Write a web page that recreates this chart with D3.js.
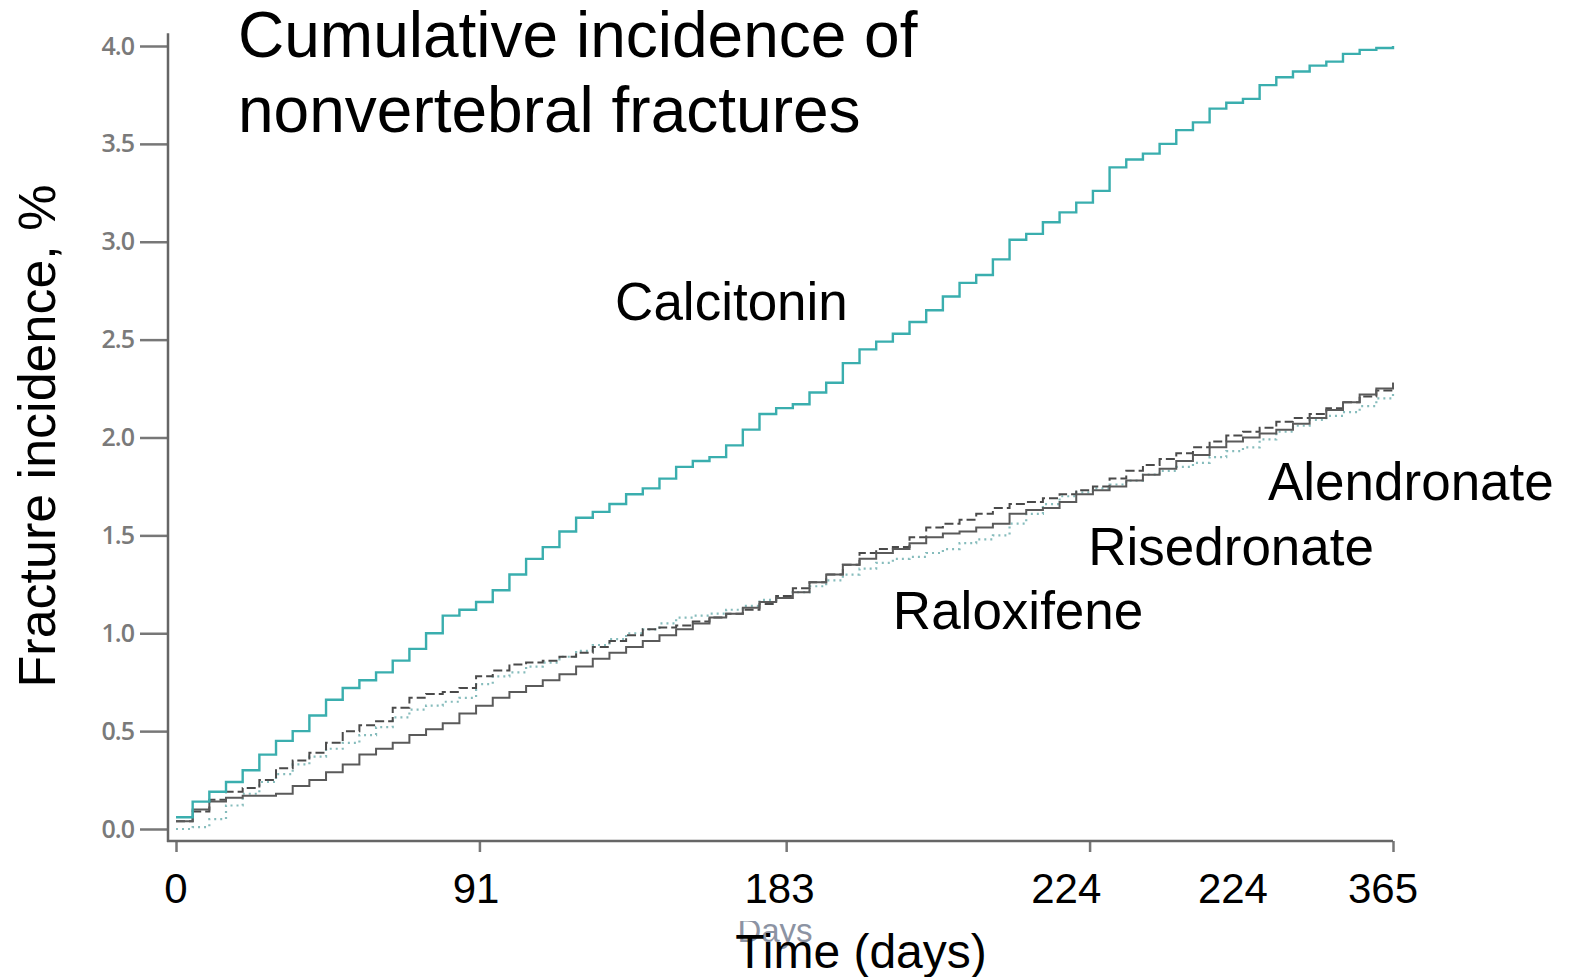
<!DOCTYPE html>
<html>
<head>
  <meta charset="utf-8">
  <style>
    body { margin: 0; background: #fff; }
    text { font-family: "Liberation Sans", Arial, sans-serif; }
    .ytick text { font-family: "Open Sans", sans-serif; font-weight: 600; font-size: 25px; fill: #7a7a7a; letter-spacing: -1px; }
    .ytick line, .xtick line { stroke: #777; stroke-width: 2.5px; }
    .line { fill: none; }
  </style>
</head>
<body>
  <svg width="1569" height="977"></svg>
  <script src="https://d3js.org/d3.v7.min.js"></script>
  <script>

  // days sampled every 5 days, 0..365
  var days = d3.range(0, 365, 5).concat([365]);

  var calcitonin = [0.06,0.14,0.19,0.24,0.30,0.38,0.45,0.50,0.58,0.66,0.72,0.76,0.80,0.86,0.92,1.00,1.09,1.12,1.16,1.22,
    1.30,1.38,1.44,1.52,1.59,1.62,1.66,1.71,1.74,1.79,1.85,1.88,1.90,1.96,2.04,2.12,2.15,2.17,2.23,2.28,
    2.38,2.45,2.49,2.53,2.59,2.65,2.72,2.79,2.83,2.91,3.01,3.04,3.10,3.15,3.20,3.26,3.38,3.42,3.45,3.50,
    3.57,3.61,3.68,3.71,3.73,3.80,3.84,3.87,3.90,3.92,3.96,3.98,3.99,4.00];

  var alendronate = [0.04,0.10,0.14,0.16,0.17,0.17,0.18,0.22,0.25,0.29,0.33,0.38,0.41,0.44,0.48,0.51,0.54,0.59,0.63,0.67,
    0.70,0.73,0.76,0.79,0.83,0.87,0.90,0.93,0.96,0.99,1.02,1.05,1.08,1.10,1.13,1.16,1.18,1.21,1.26,1.30,
    1.35,1.38,1.41,1.43,1.46,1.49,1.51,1.52,1.54,1.56,1.61,1.63,1.64,1.67,1.71,1.73,1.75,1.78,1.81,1.84,
    1.88,1.91,1.95,1.98,2.00,2.02,2.04,2.07,2.10,2.14,2.18,2.22,2.25,2.28];

  var risedronate = [0.04,0.09,0.15,0.19,0.21,0.25,0.31,0.35,0.39,0.44,0.50,0.53,0.55,0.62,0.67,0.69,0.70,0.72,0.78,0.81,
    0.84,0.85,0.86,0.88,0.90,0.93,0.96,0.99,1.02,1.03,1.04,1.06,1.08,1.10,1.12,1.15,1.19,1.23,1.26,1.30,
    1.35,1.41,1.43,1.44,1.49,1.54,1.56,1.58,1.61,1.64,1.66,1.67,1.69,1.71,1.73,1.75,1.79,1.83,1.86,1.89,
    1.92,1.95,1.98,2.01,2.03,2.05,2.08,2.10,2.12,2.15,2.18,2.21,2.24,2.28];

  var raloxifene = [0.00,0.01,0.05,0.12,0.18,0.24,0.28,0.33,0.37,0.41,0.44,0.48,0.52,0.57,0.61,0.63,0.65,0.67,0.74,0.78,
    0.80,0.83,0.85,0.88,0.91,0.94,0.97,1.00,1.02,1.05,1.08,1.09,1.10,1.12,1.14,1.17,1.19,1.21,1.24,1.27,
    1.30,1.33,1.36,1.38,1.39,1.41,1.43,1.46,1.48,1.50,1.56,1.61,1.66,1.70,1.72,1.74,1.76,1.78,1.81,1.83,
    1.85,1.87,1.90,1.93,1.95,1.99,2.03,2.06,2.09,2.11,2.13,2.16,2.20,2.24];

  var yTicks = [0, 0.5, 1.0, 1.5, 2.0, 2.5, 3.0, 3.5, 4.0];
  var xTicks = [0, 91, 183, 274, 365];
  // labels pasted under the axis, with the day they are centred on
  var xLabels = ["0", "91", "183", "224", "224", "365"];
  var xLabelAt = [0, 90, 181, 267, 317, 362];

  var series = [
    {name: "Raloxifene",  values: raloxifene,  color: "#86bcbc", dash: "2,4", width: 2.2, at: [215, 1.02]},
    {name: "Risedronate", values: risedronate, color: "#4a4a4a", dash: "9,4", width: 2.0, at: [273.6, 1.35]},
    {name: "Alendronate", values: alendronate, color: "#5a5a5a", dash: null,  width: 2.0, at: [327.5, 1.68]},
    {name: "Calcitonin",  values: calcitonin,  color: "#3aaeae", dash: null,  width: 2.4, at: [131.7, 2.60]}
  ];

  var svg = d3.select("svg");

  var x = d3.scaleLinear().domain([0, 365]).range([176, 1393]),
      y = d3.scaleLinear().domain([0, 4]).range([829, 46]);

  // axes
  svg.append("g")
    .attr("class", "ytick")
    .attr("transform", "translate(168,0)")
    .call(d3.axisLeft(y).tickValues(yTicks).tickFormat(d3.format(".1f")).tickSize(28).tickPadding(6))
    .call(function(g) { g.select(".domain").remove(); });

  svg.append("g")
    .attr("class", "xtick")
    .attr("transform", "translate(0,841)")
    .call(d3.axisBottom(x).tickValues(xTicks).tickFormat("").tickSize(11))
    .call(function(g) { g.select(".domain").remove(); });

  svg.append("line")
    .attr("x1", 168).attr("x2", 168)
    .attr("y1", y(4.065)).attr("y2", 842)
    .attr("stroke", "#666").attr("stroke-width", 2.5);

  svg.append("line")
    .attr("x1", 167).attr("x2", x(365))
    .attr("y1", 841).attr("y2", 841)
    .attr("stroke", "#666").attr("stroke-width", 2.5);

  var line = d3.line()
    .curve(d3.curveStepAfter)
    .x(function(d, i) { return x(days[i]); })
    .y(function(d) { return y(d); });

  svg.selectAll(".line")
    .data(series)
    .enter().append("path")
      .attr("class", "line")
      .attr("d", function(d) { return line(d.values); })
      .attr("stroke", function(d) { return d.color; })
      .attr("stroke-width", function(d) { return d.width; })
      .attr("stroke-dasharray", function(d) { return d.dash; });

  svg.selectAll(".slabel")
    .data(series)
    .enter().append("text")
      .attr("class", "slabel")
      .attr("x", function(d) { return x(d.at[0]); })
      .attr("y", function(d) { return y(d.at[1]); })
      .style("font-size", "53px")
      .text(function(d) { return d.name; });

  // old "Days" caption, half hidden under the new labels
  svg.append("text")
    .attr("x", 775).attr("y", 942)
    .attr("text-anchor", "middle")
    .style("font-size", "33px")
    .style("fill", "#8c93a3")
    .text("Days");
  svg.append("rect")
    .attr("x", 715).attr("y", 880).attr("width", 130).attr("height", 41)
    .attr("fill", "#fff");

  // x tick labels
  svg.selectAll(".xlabel")
    .data(xLabels)
    .enter().append("text")
      .attr("class", "xlabel")
      .attr("x", function(d, i) { return x(xLabelAt[i]); })
      .attr("y", 903)
      .attr("text-anchor", "middle")
      .style("font-size", "42px")
      .text(function(d) { return d; });

  svg.append("text")
    .attr("x", 861).attr("y", 968)
    .attr("text-anchor", "middle")
    .style("font-size", "48px")
    .text("Time (days)");

  svg.append("text")
    .attr("transform", "translate(55,436) rotate(-90)")
    .attr("text-anchor", "middle")
    .style("font-size", "52px")
    .text("Fracture incidence, %");

  var title = svg.append("text")
    .attr("x", 238)
    .style("font-size", "64px");
  title.append("tspan").attr("x", 238).attr("y", 57).text("Cumulative incidence of");
  title.append("tspan").attr("x", 238).attr("y", 132).text("nonvertebral fractures");

  </script>
</body>
</html>
